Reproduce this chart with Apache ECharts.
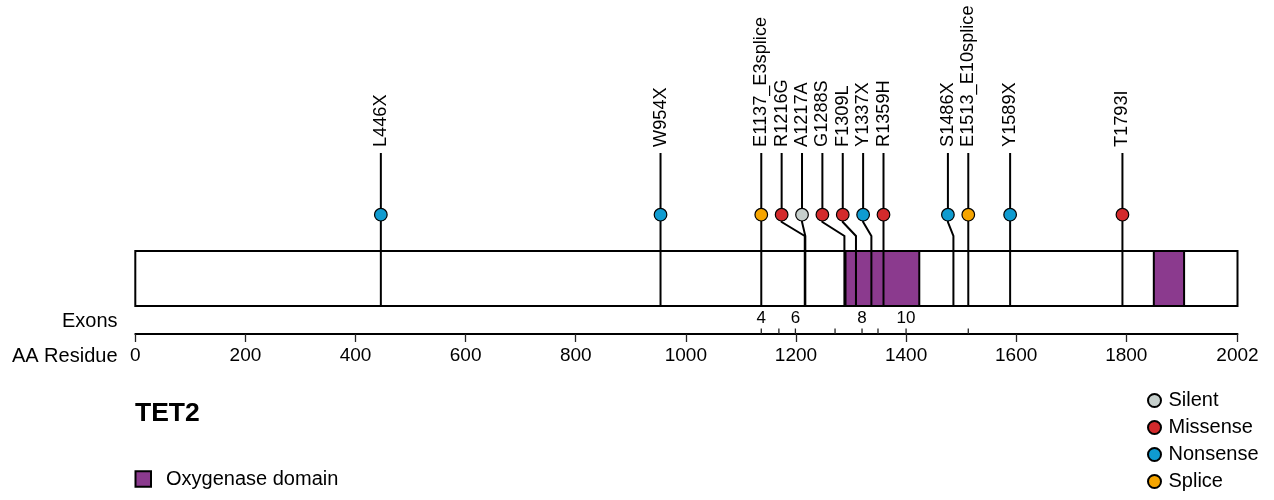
<!DOCTYPE html>
<html>
<head>
<meta charset="utf-8">
<script src="https://cdn.jsdelivr.net/npm/echarts@6/dist/echarts.min.js"></script>
<style>
  html, body { margin: 0; padding: 0; background: #ffffff; }
  #main { width: 1274px; height: 500px; }
</style>
</head>
<body>
<div id="main"></div>
<script>
// TET2 protein and observed mutations
const geneName = 'TET2';
const proteinLength = 2002;

const mutationNames = ['L446X', 'W954X', 'E1137_E3splice', 'R1216G', 'A1217A', 'G1288S', 'F1309L',
  'Y1337X', 'R1359H', 'S1486X', 'E1513_E10splice', 'Y1589X', 'T1793I'];
const mutationPositions = [446, 954, 1137, 1216, 1217, 1288, 1309, 1337, 1359, 1486, 1513, 1589, 1793];
const mutationTypes = ['Nonsense', 'Nonsense', 'Splice', 'Missense', 'Silent', 'Missense', 'Missense',
  'Nonsense', 'Missense', 'Nonsense', 'Splice', 'Nonsense', 'Missense'];

const mutationClasses = ['Silent', 'Missense', 'Nonsense', 'Splice'];
const classColors = ['#c6cfcc', '#d32a2c', '#0f9bd0', '#f6a500'];

const domainName = 'Oxygenase domain';
const domainStarts = [1290, 1850];
const domainEnds = [1424, 1905];

const exonStarts = [1137, 1169, 1199, 1271, 1320, 1349, 1400, 1513];
const exonLabels = ['4', '', '6', '', '8', '', '10', ''];

const residueTicks = [0, 200, 400, 600, 800, 1000, 1200, 1400, 1600, 1800, 2002];

// ---- layout ----
const FONT = '"Liberation Sans", Arial, Helvetica, sans-serif';
const TRACK_TOP = 251, TRACK_H = 55;
const BALL_Y = 214.7, BALL_R = 6.3;
const STEM_TOP = 153, BEND_1 = 222, BEND_2 = 236;
const LABEL_BASE = 147;
const MIN_GAP = 37; // residues between neighbouring lollipop heads

// spread crowded lollipop heads leftwards so they keep a minimum gap
const order = mutationPositions.map((p, i) => i).sort((a, b) => mutationPositions[a] - mutationPositions[b]);
const headPos = mutationPositions.slice();
for (let k = order.length - 2; k >= 0; k--) {
  const i = order[k], j = order[k + 1];
  headPos[i] = Math.min(mutationPositions[i], headPos[j] - MIN_GAP);
}

const chart = echarts.init(document.getElementById('main'), null, { renderer: 'canvas' });

const xOf = (api, v) => api.coord([v, 0])[0];

const classSeries = mutationClasses.map((cls, c) => ({
  name: cls,
  type: 'custom',
  z: 5,
  itemStyle: { color: classColors[c], borderColor: '#000', borderWidth: 1.2 },
  encode: { x: 0 },
  data: mutationPositions
    .map((p, i) => [headPos[i], i])
    .filter(d => mutationTypes[d[1]] === cls),
  renderItem: (params, api) => ({
    type: 'circle',
    shape: { cx: xOf(api, api.value(0)), cy: BALL_Y, r: BALL_R },
    style: { fill: classColors[c], stroke: '#000', lineWidth: 1.2 }
  })
}));

chart.setOption({
  animation: false,
  backgroundColor: '#ffffff',
  title: {
    text: geneName,
    left: 135, top: 400, padding: 0,
    textStyle: { fontFamily: FONT, fontSize: 26.5, fontWeight: 'bold', color: '#000' }
  },
  legend: [
    {
      data: mutationClasses,
      orient: 'vertical',
      left: 1147, top: 390.5, padding: 0,
      icon: 'circle',
      itemWidth: 18, itemHeight: 13, itemGap: 7,
      selectedMode: false,
      textStyle: { fontFamily: FONT, fontSize: 20, color: '#000', lineHeight: 20 }
    },
    {
      data: [domainName],
      left: 134.5, top: 469, padding: 0,
      icon: 'rect',
      itemWidth: 15.5, itemHeight: 15.5,
      selectedMode: false,
      textStyle: { fontFamily: FONT, fontSize: 20, color: '#000', lineHeight: 20, padding: [0, 0, 0, 10] }
    }
  ],
  grid: { left: 135.3, right: 36.5, top: 0, bottom: 166 },
  xAxis: {
    type: 'value',
    min: 0, max: proteinLength,
    splitLine: { show: false },
    axisLine: { lineStyle: { color: '#000', width: 2 } },
    axisTick: { customValues: residueTicks, length: 8, lineStyle: { color: '#222', width: 1.3 } },
    axisLabel: {
      customValues: residueTicks, margin: 12.5,
      formatter: v => String(v),
      fontFamily: FONT, fontSize: 19, color: '#000'
    }
  },
  yAxis: { type: 'value', show: false, min: 0, max: 1 },
  graphic: [
    {
      type: 'text', x: 117.5, y: 321,
      style: { text: 'Exons', fontFamily: FONT, fontSize: 20, fill: '#000', align: 'right', verticalAlign: 'middle' }
    },
    {
      type: 'text', x: 117.5, y: 356.5,
      style: { text: 'AA Residue', fontFamily: FONT, fontSize: 20, fill: '#000', align: 'right', verticalAlign: 'middle' }
    }
  ],
  series: [
    {
      // full-length protein backbone
      name: 'protein',
      type: 'custom',
      z: 1,
      encode: { x: [0, 1] },
      data: [[0, proteinLength]],
      renderItem: (params, api) => {
        const x0 = xOf(api, api.value(0)), x1 = xOf(api, api.value(1));
        return {
          type: 'rect',
          shape: { x: x0, y: TRACK_TOP, width: x1 - x0, height: TRACK_H },
          style: { fill: '#ffffff', stroke: '#000', lineWidth: 2 }
        };
      }
    },
    {
      name: domainName,
      type: 'custom',
      z: 2,
      itemStyle: { color: '#8b3a8e', borderColor: '#000', borderWidth: 1.5 },
      encode: { x: [0, 1] },
      data: domainStarts.map((s, i) => [s, domainEnds[i]]),
      renderItem: (params, api) => {
        const x0 = xOf(api, api.value(0)), x1 = xOf(api, api.value(1));
        return {
          type: 'rect',
          shape: { x: x0, y: TRACK_TOP, width: x1 - x0, height: TRACK_H },
          style: { fill: '#8b3a8e', stroke: '#000', lineWidth: 2 }
        };
      }
    },
    {
      // lollipop stems with rotated mutation labels
      name: 'stems',
      type: 'custom',
      z: 4,
      encode: { x: [0, 1] },
      data: mutationPositions.map((p, i) => [p, headPos[i], i]),
      renderItem: (params, api) => {
        const x = xOf(api, api.value(0));
        const hx = xOf(api, api.value(1));
        const idx = api.value(2);
        return {
          type: 'group',
          children: [
            {
              type: 'polyline',
              shape: { points: [[hx, STEM_TOP], [hx, BEND_1], [x, BEND_2], [x, TRACK_TOP + TRACK_H]] },
              style: { stroke: '#000', lineWidth: 2, fill: null }
            },
            {
              type: 'text',
              x: hx, y: LABEL_BASE,
              rotation: Math.PI / 2,
              style: {
                text: mutationNames[idx], fontFamily: FONT, fontSize: 18.2, fill: '#000',
                align: 'left', verticalAlign: 'middle'
              }
            }
          ]
        };
      }
    },
    {
      // exon boundaries above the residue axis
      name: 'exons',
      type: 'custom',
      z: 3,
      encode: { x: 0 },
      data: exonStarts.map((s, i) => [s, i]),
      renderItem: (params, api) => {
        const x = xOf(api, api.value(0));
        const label = exonLabels[api.value(1)];
        return {
          type: 'group',
          children: [
            {
              type: 'line',
              shape: { x1: x, y1: 328.5, x2: x, y2: 334 },
              style: { stroke: '#222', lineWidth: 1.3 }
            },
            {
              type: 'text', x: x, y: 318.5,
              style: {
                text: label, fontFamily: FONT, fontSize: 17, fill: '#000',
                align: 'center', verticalAlign: 'middle'
              }
            }
          ]
        };
      }
    }
  ].concat(classSeries)
});
</script>
</body>
</html>
